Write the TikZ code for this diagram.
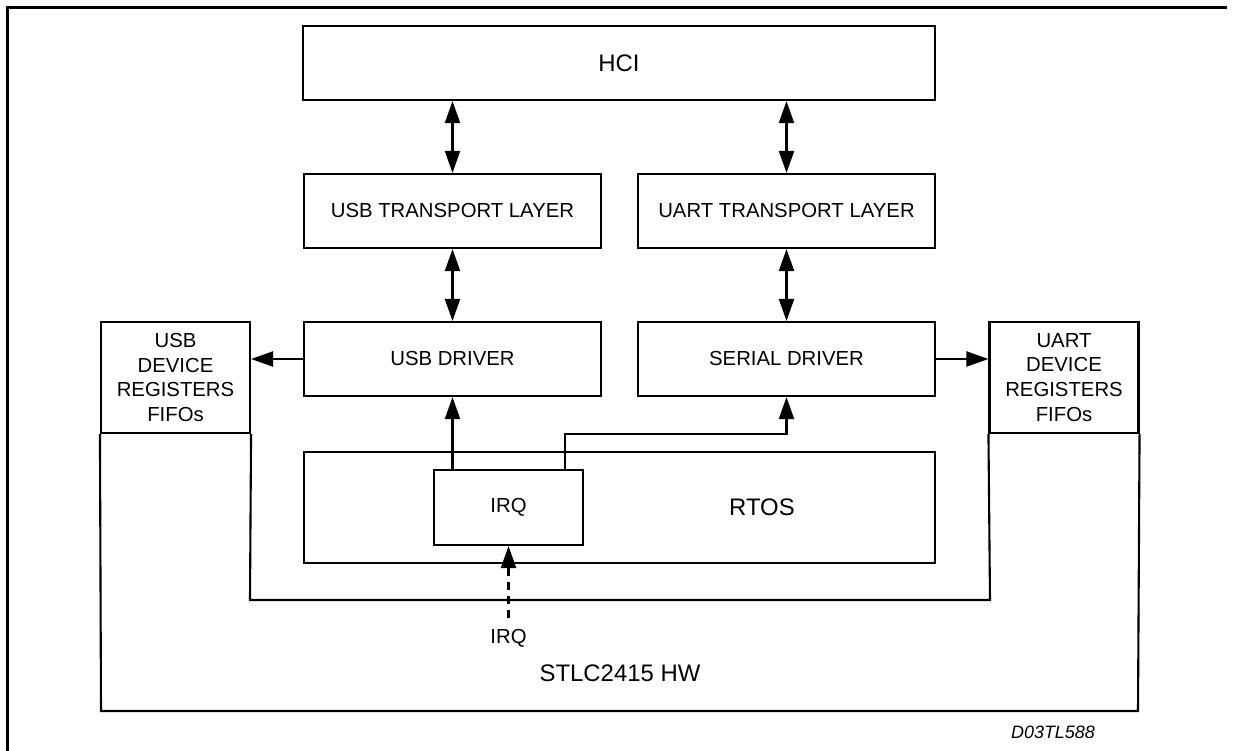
\documentclass[tikz,border=0pt]{standalone}
\usepackage{fontspec}
\setmainfont{Liberation Sans}
\usetikzlibrary{arrows.meta,calc}
\begin{document}
\begin{tikzpicture}[x=1bp,y=-1bp,
  >={Triangle[length=22bp,width=15bp]},
  ln/.style={line width=2.1bp},
  box/.style={draw,ln,minimum width=297bp,minimum height=74bp,inner sep=0pt,
              font=\fontsize{20.4}{25}\selectfont},
  devbox/.style={draw,ln,minimum width=149bp,minimum height=111bp,inner sep=0pt,
              align=center,font=\fontsize{20.4}{25}\selectfont},
  big/.style={font=\fontsize{24}{28}\selectfont},
  small/.style={font=\fontsize{20.4}{25}\selectfont}]
\useasboundingbox (0,0) rectangle (1233,751);
% frame (cropped)
\draw[line width=2.6bp] (7.5,751) -- (7.5,7.5) -- (1227,7.5);
% boxes
\node[box,minimum width=632bp,big] (hci) at (619,63) {HCI};
\node[box] (usbtl) at (452.5,211) {USB TRANSPORT LAYER};
\node[box] (uarttl) at (786.5,211) {UART TRANSPORT LAYER};
\node[box] (usbdrv) at (452.5,359) {USB DRIVER};
\node[box] (serdrv) at (786.5,359) {SERIAL DRIVER};
\node[draw,ln,minimum width=631bp,minimum height=111bp,inner sep=0pt] (rtos) at (619.5,507.5) {};
\node[big] (rtoslbl) at (762,507) {RTOS};
\node[draw,ln,fill=white,minimum width=149bp,minimum height=75bp,inner sep=0pt,small] (irq) at (508.5,507.5) {IRQ};
\node[devbox] (usbdev) at (175.5,377.5) {USB\\DEVICE\\REGISTERS\\FIFOs};
\node[devbox] (uartdev) at (1064,377.5) {UART\\DEVICE\\REGISTERS\\FIFOs};
% hardware outline
\coordinate (hwbl) at (101,711);
\coordinate (hwbr) at (1138,711);
\coordinate (ubl) at (250,600);
\coordinate (ubr) at (990,600);
\draw[ln] (usbdev.south west) -- (hwbl) -- (hwbr) -- (uartdev.south east);
\draw[ln] (usbdev.south east) -- (ubl) -- (ubr) -- (uartdev.south west);
% labels
\node[big] (hw) at (620,673) {STLC2415 HW};
\node[small] (irqin) at (508.5,638) {IRQ};
\node[font=\fontsize{18}{22}\selectfont\itshape] (code) at (1053,732) {D03TL588};
% connectors
\draw[ln,<->] (hci.south -| usbtl.north) -- (usbtl.north);
\draw[ln,<->] (hci.south -| uarttl.north) -- (uarttl.north);
\draw[ln,<->] (usbtl.south) -- (usbdrv.north);
\draw[ln,<->] (uarttl.south) -- (serdrv.north);
\draw[ln,->] (usbdrv.west) -- (usbdrv.west -| usbdev.east);
\draw[ln,->] (serdrv.east) -- (serdrv.east -| uartdev.west);
\draw[ln,->] (irq.north -| usbdrv.south) -- (usbdrv.south);
\coordinate (irqr) at ($(irq.north east)+(-19,0)$);
\draw[ln,->] (irqr) |- ($(serdrv.south)+(0,37)$) -- (serdrv.south);
\coordinate (irqsrc) at (508.5,618);
\draw[ln,->,dash pattern=on 8bp off 6bp] (irqsrc) -- (irq.south);
\end{tikzpicture}
\end{document}
